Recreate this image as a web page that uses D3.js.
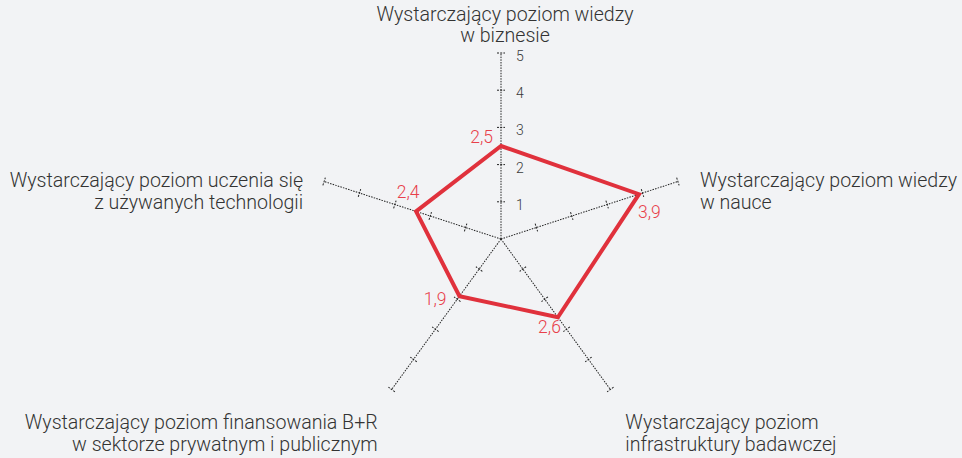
<!DOCTYPE html>
<html>
  <head>
    <meta charset="utf-8" />
    <script src="https://d3js.org/d3.v7.min.js"></script>
    <style>
        body {margin: 0; background: #f2f3f5;}
        text {font-family: Roboto, "Noto Sans", sans-serif;}
    </style>
  </head>
  <body>
    <svg id="viz"></svg>

    <script>
        var width = 962
        var height = 458

        // data
        var categories = [
            ["Wystarczający poziom wiedzy", "w biznesie"],
            ["Wystarczający poziom wiedzy", "w nauce"],
            ["Wystarczający poziom", "infrastruktury badawczej"],
            ["Wystarczający poziom finansowania B+R", "w sektorze prywatnym i publicznym"],
            ["Wystarczający poziom uczenia się", "z używanych technologii"]
        ]
        var values = [2.5, 3.9, 2.6, 1.9, 2.4]
        var valueLabels = ["2,5", "3,9", "2,6", "1,9", "2,4"]
        var tickValues = [1, 2, 3, 4, 5]

        // layout of the text around each axis end (dx, dy, anchor)
        var labelLayout = [
            {dx: 4, dy: -32, anchor: "middle", gap: 21},
            {dx: 22, dy: 5, anchor: "start", gap: 22},
            {dx: 15, dy: 40, anchor: "start", gap: 22},
            {dx: -14, dy: 40, anchor: "end", gap: 22},
            {dx: -21, dy: 5, anchor: "end", gap: 22}
        ]
        var valueLayout = [
            {dx: -8, dy: -3, anchor: "end"},
            {dx: -1, dy: 24, anchor: "start"},
            {dx: 3, dy: 16, anchor: "end"},
            {dx: -13, dy: 9, anchor: "end"},
            {dx: -8, dy: -13, anchor: "middle"}
        ]

        var cx = 501, cy = 239

        var svg = d3.select("#viz")
            .attr("width", width)
            .attr("height", height)

        svg.append("rect")
            .attr("width", width)
            .attr("height", height)
            .attr("fill", "#f2f3f5")

        var r = d3.scaleLinear().domain([0, 5]).range([0, 186])

        var g = svg.append("g").attr("transform", "translate(" + cx + "," + cy + ")")

        function angle(i) { return (-90 + 72 * i) * Math.PI / 180 }
        function pt(i, v) { return [r(v) * Math.cos(angle(i)), r(v) * Math.sin(angle(i))] }

        // axes
        var axes = g.selectAll("g.axis")
            .data(categories)
            .enter().append("g")
            .attr("class", "axis")
            .attr("transform", function(d, i) { return "rotate(" + (-90 + 72 * i) + ")" })

        axes.append("line")
            .attr("x1", 0).attr("y1", 0)
            .attr("x2", r(5)).attr("y2", 0)
            .attr("stroke", "#222")
            .attr("stroke-width", 1)
            .attr("stroke-dasharray", "1.5,1.2")

        axes.selectAll("line.tick")
            .data(tickValues)
            .enter().append("line")
            .attr("class", "tick")
            .attr("x1", function(d) { return r(d) }).attr("x2", function(d) { return r(d) })
            .attr("y1", -4).attr("y2", 4)
            .attr("stroke", "#222")
            .attr("stroke-width", 1)
            .attr("stroke-dasharray", "2,1.2")

        // tick numbers on the top axis
        g.selectAll("text.ticklabel")
            .data(tickValues)
            .enter().append("text")
            .attr("class", "ticklabel")
            .attr("x", 15)
            .attr("y", function(d) { return -r(d) + 8 })
            .attr("font-size", 14)
            .attr("font-weight", 300)
            .attr("fill", "#3a3a3a")
            .text(function(d) { return d })

        // data polygon
        var line = d3.line().curve(d3.curveLinearClosed)
        g.append("path")
            .attr("d", line(values.map(function(v, i) { return pt(i, v) })))
            .attr("fill", "none")
            .attr("stroke", "#e0313c")
            .attr("stroke-width", 4)
            .attr("stroke-linejoin", "miter")

        // value labels
        g.selectAll("text.value")
            .data(values)
            .enter().append("text")
            .attr("class", "value")
            .attr("x", function(d, i) { return pt(i, d)[0] + valueLayout[i].dx })
            .attr("y", function(d, i) { return pt(i, d)[1] + valueLayout[i].dy })
            .attr("text-anchor", function(d, i) { return valueLayout[i].anchor })
            .attr("font-size", 17.5)
            .attr("font-weight", 300)
            .attr("fill", "#e8404a")
            .text(function(d, i) { return valueLabels[i] })

        // category labels
        var labels = g.selectAll("text.cat")
            .data(categories)
            .enter().append("text")
            .attr("class", "cat")
            .attr("font-size", 19.6)
            .attr("font-weight", 300)
            .attr("fill", "#333")
            .attr("text-anchor", function(d, i) { return labelLayout[i].anchor })
            .attr("transform", function(d, i) {
                var p = pt(i, 5)
                return "translate(" + (p[0] + labelLayout[i].dx) + "," + (p[1] + labelLayout[i].dy) + ")"
            })

        labels.selectAll("tspan")
            .data(function(d, i) { return d.map(function(s) { return {s: s, gap: labelLayout[i].gap} }) })
            .enter().append("tspan")
            .attr("x", 0)
            .attr("dy", function(d, j) { return j === 0 ? 0 : d.gap })
            .text(function(d) { return d.s })
    </script>
  </body>
</html>
